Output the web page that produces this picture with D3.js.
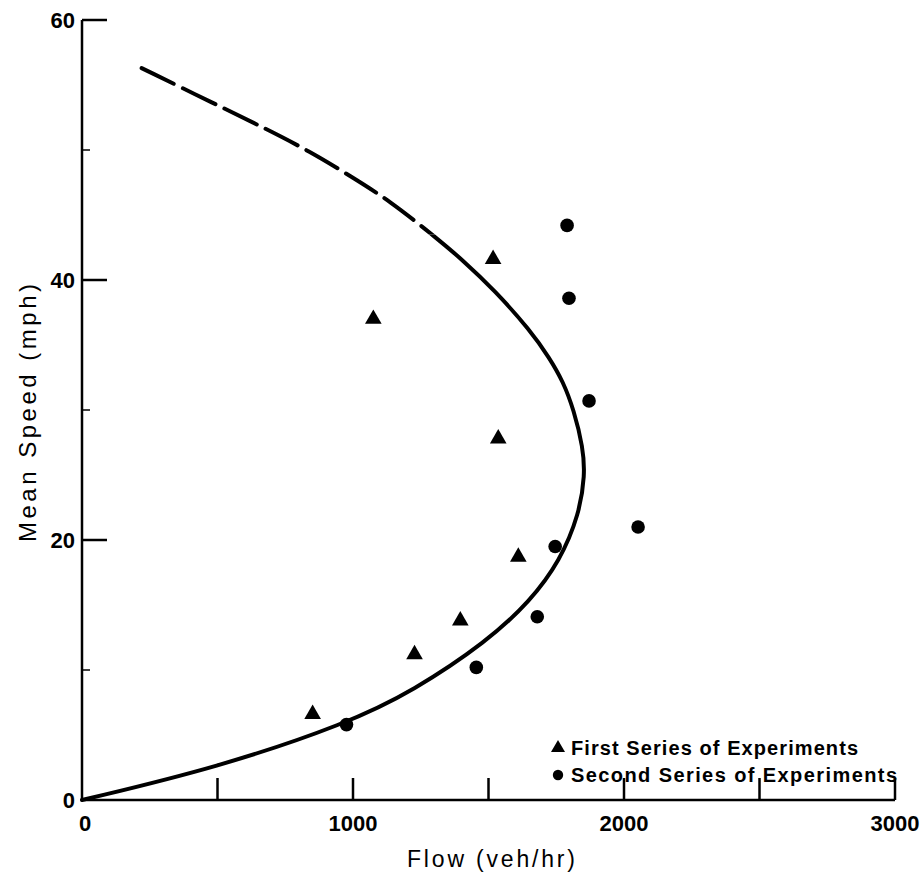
<!DOCTYPE html>
<html>
<head>
<meta charset="utf-8">
<script src="https://cdn.jsdelivr.net/npm/d3@7"></script>
<style>
  html, body { margin: 0; padding: 0; background: #fff; }
  svg { display: block; }
  text { font-family: "Liberation Sans", Arial, Helvetica, sans-serif; fill: #000; }
</style>
</head>
<body>
<svg id="chart" width="923" height="875"></svg>
<script>
// ---- Data ----
const firstFlow  = [851, 1227, 1396, 1075, 1517, 1536, 1610];
const firstSpeed = [6.6, 11.2, 13.8, 37.0, 41.6, 27.8, 18.7];

const secondFlow  = [976, 1455, 1680, 1746, 2052, 1871, 1797, 1790];
const secondSpeed = [5.8, 10.2, 14.1, 19.5, 21.0, 30.7, 38.6, 44.2];

// fitted speed-flow curve; solid below the break speed, dashed above
const curveSpeed = [0, 2.5, 5.9, 8.4, 12.2, 15.3, 18.4, 22.0, 25.0, 27.1, 30.0, 32.2, 34.0, 36.1, 39.2, 41.6, 43.2, 46.1, 48.0, 49.9, 51.7, 53.5, 56.3];
const curveFlow  = [0, 500, 980, 1223, 1495, 1654, 1764, 1835, 1856, 1849, 1815, 1775, 1725, 1655, 1523, 1401, 1310, 1135, 990, 840, 672, 495, 220];
const breakSpeed = 43.5;

const xTicks = [0, 500, 1000, 1500, 2000, 2500, 3000];
const xTickLabels = ["0", "", "1000", "", "2000", "", "3000"];
const yMajorTicks = [0, 20, 40, 60];
const yMinorTicks = [10, 30, 50];

const legendLabels = ["First Series of Experiments", "Second Series of Experiments"];
const xTitle = "Flow (veh/hr)";
const yTitle = "Mean Speed (mph)";

// ---- Chart ----
const svg = d3.select("#chart");
const x = d3.scaleLinear().domain([0, 3000]).range([82, 895]);
const y = d3.scaleLinear().domain([0, 60]).range([800, 20]);

// axes lines
svg.append("line").attr("x1", x(0)).attr("x2", x(3000)).attr("y1", y(0)).attr("y2", y(0))
  .attr("stroke", "#000").attr("stroke-width", 2.5);
svg.append("line").attr("x1", x(0)).attr("x2", x(0)).attr("y1", y(0)).attr("y2", y(60))
  .attr("stroke", "#000").attr("stroke-width", 2.5);

// x ticks (pointing up)
svg.append("g").selectAll("line").data(xTicks.slice(1)).join("line")
  .attr("x1", d => x(d)).attr("x2", d => x(d))
  .attr("y1", y(0)).attr("y2", y(0) - 22)
  .attr("stroke", "#000").attr("stroke-width", 2.5);
svg.append("g").selectAll("text").data(xTicks).join("text")
  .attr("x", d => x(d) + (d === 0 ? 3 : 0)).attr("y", y(0) + 31)
  .attr("text-anchor", "middle")
  .attr("font-size", 22).attr("font-weight", "bold")
  .text((d, i) => xTickLabels[i]);

// y ticks (pointing right)
svg.append("g").selectAll("line").data(yMajorTicks.slice(1)).join("line")
  .attr("x1", x(0)).attr("x2", x(0) + 25)
  .attr("y1", d => y(d)).attr("y2", d => y(d))
  .attr("stroke", "#000").attr("stroke-width", 2.5);
svg.append("g").selectAll("line").data(yMinorTicks).join("line")
  .attr("x1", x(0)).attr("x2", x(0) + 8)
  .attr("y1", d => y(d)).attr("y2", d => y(d))
  .attr("stroke", "#000").attr("stroke-width", 1.5);
svg.append("g").selectAll("text").data(yMajorTicks).join("text")
  .attr("x", x(0) - 7).attr("y", d => y(d) + 8)
  .attr("text-anchor", "end")
  .attr("font-size", 22).attr("font-weight", "bold")
  .text(d => d);

// titles
svg.append("text").attr("x", 491).attr("y", 867).attr("text-anchor", "middle")
  .attr("font-size", 23).attr("textLength", 168).attr("lengthAdjust", "spacing").text(xTitle);
svg.append("text").attr("transform", "translate(36,413) rotate(-90)")
  .attr("text-anchor", "middle").attr("font-size", 24)
  .attr("textLength", 258).attr("lengthAdjust", "spacing").text(yTitle);

// curve: one smooth path, split into solid / dashed by clipping at the break speed
const pts = curveFlow.map((f, i) => [f, curveSpeed[i]]);
const line = d3.line().x(d => x(d[0])).y(d => y(d[1])).curve(d3.curveBasis);
const defs = svg.append("defs");
defs.append("clipPath").attr("id", "clipSolid").append("rect")
  .attr("x", 0).attr("y", y(breakSpeed)).attr("width", 923).attr("height", 875);
defs.append("clipPath").attr("id", "clipDash").append("rect")
  .attr("x", 0).attr("y", 0).attr("width", 923).attr("height", y(breakSpeed));
svg.append("path").datum(pts).attr("d", line).attr("clip-path", "url(#clipSolid)")
  .attr("fill", "none").attr("stroke", "#000").attr("stroke-width", 4).attr("stroke-linecap", "round");
svg.append("path").datum(pts.slice().reverse()).attr("d", line).attr("clip-path", "url(#clipDash)")
  .attr("fill", "none").attr("stroke", "#000").attr("stroke-width", 4)
  .attr("stroke-dasharray", "36 10").attr("stroke-linecap", "round");

// markers
const tri = d3.symbol().type(d3.symbolTriangle).size(120);
svg.append("g").selectAll("path").data(firstFlow.map((f, i) => [f, firstSpeed[i]])).join("path")
  .attr("transform", d => `translate(${x(d[0])},${y(d[1])})`)
  .attr("d", tri).attr("fill", "#000");
svg.append("g").selectAll("circle").data(secondFlow.map((f, i) => [f, secondSpeed[i]])).join("circle")
  .attr("cx", d => x(d[0])).attr("cy", d => y(d[1])).attr("r", 6.8).attr("fill", "#000");

// legend
const lg = svg.append("g");
lg.append("path").attr("transform", "translate(558,748)").attr("d", d3.symbol().type(d3.symbolTriangle).size(85)).attr("fill", "#000");
lg.append("circle").attr("cx", 558).attr("cy", 775).attr("r", 5.2).attr("fill", "#000");
const legendWidths = [287, 326];
lg.selectAll("text").data(legendLabels).join("text")
  .attr("x", 571).attr("y", (d, i) => 755 + i * 27)
  .attr("font-size", 20).attr("font-weight", "bold")
  .attr("textLength", (d, i) => legendWidths[i]).attr("lengthAdjust", "spacing")
  .text(d => d);
</script>
</body>
</html>
